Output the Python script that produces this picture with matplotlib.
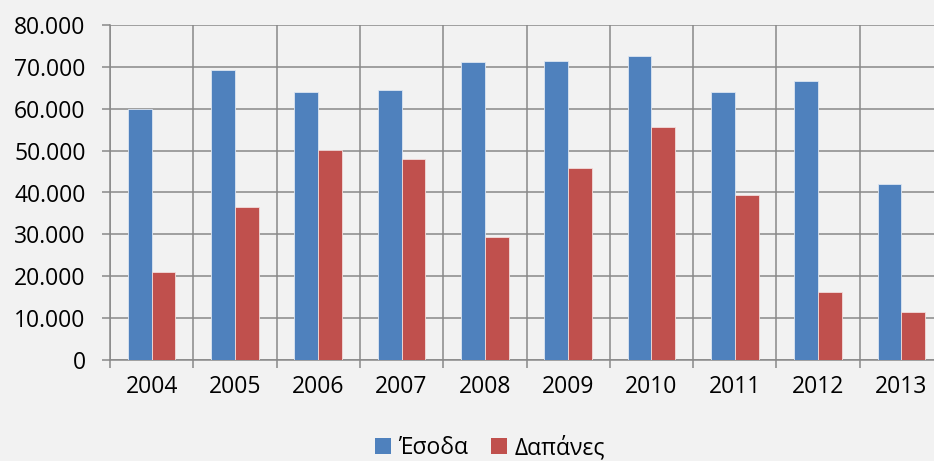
import matplotlib
matplotlib.use("Agg")
import matplotlib.pyplot as plt
import numpy as np
from matplotlib.patches import Patch
from matplotlib.ticker import FuncFormatter, MultipleLocator, FixedLocator

years = ["2004", "2005", "2006", "2007", "2008", "2009", "2010", "2011", "2012", "2013"]
esoda = [60000, 69200, 64000, 64500, 71200, 71400, 72600, 64100, 66600, 42000]
dapanes = [21000, 36500, 50100, 48000, 29400, 45850, 55600, 39400, 16200, 11400]
series_names = ["Έσοδα", "Δαπάνες"]

BLUE = "#4F81BD"
RED = "#C0504D"
BG = "#F2F2F2"
GRID = "#898989"

plt.rcParams["font.family"] = ["Open Sans", "DejaVu Sans"]

W, H = 934, 461
fig = plt.figure(figsize=(W / 100, H / 100), dpi=100, facecolor=BG)
ax = fig.add_axes([110 / W, (H - 360) / H, 833 / W, 335 / H])
ax.set_facecolor(BG)

n = len(years)
x = np.arange(n) + 0.5
bw = 0.2857
ax.bar(x - bw / 2, esoda, bw, color=BLUE, edgecolor="#DCE6F2", linewidth=0.6, zorder=3)
ax.bar(x + bw / 2, dapanes, bw, color=RED, edgecolor="#F2DCDB", linewidth=0.6, zorder=3)

ax.set_xlim(0, n)
ax.set_ylim(0, 80000)

ax.yaxis.set_major_locator(MultipleLocator(10000))
ax.yaxis.set_major_formatter(FuncFormatter(lambda v, p: f"{int(v):,}".replace(",", ".")))
ax.xaxis.set_major_locator(FixedLocator(x))
ax.set_xticklabels(years)
ax.xaxis.set_minor_locator(FixedLocator(np.arange(n + 1)))

ax.grid(axis="y", which="major", color=GRID, linewidth=1.1, zorder=0)
ax.grid(axis="x", which="minor", color=GRID, linewidth=1.1, zorder=0)
ax.set_axisbelow(True)

for s in ["top", "right"]:
    ax.spines[s].set_visible(False)
for s in ["left", "bottom"]:
    ax.spines[s].set_color(GRID)
    ax.spines[s].set_linewidth(1.1)

ax.tick_params(axis="y", which="major", length=5.5, width=1.1, color=GRID,
               labelsize=16.5, pad=12, labelcolor="black")
ax.tick_params(axis="x", which="major", length=0, labelsize=16.5, pad=11, labelcolor="black")
ax.tick_params(axis="x", which="minor", length=6, width=1.1, color=GRID)

handles = [Patch(facecolor=BLUE, edgecolor="none"), Patch(facecolor=RED, edgecolor="none")]
fig.legend(handles, series_names, loc="center", bbox_to_anchor=(490 / W, 13 / H),
           ncol=2, frameon=False, fontsize=16.5, handlelength=0.7, handleheight=0.7,
           handletextpad=0.3, columnspacing=1.0)

fig.savefig("out.png", dpi=100, facecolor=BG)
